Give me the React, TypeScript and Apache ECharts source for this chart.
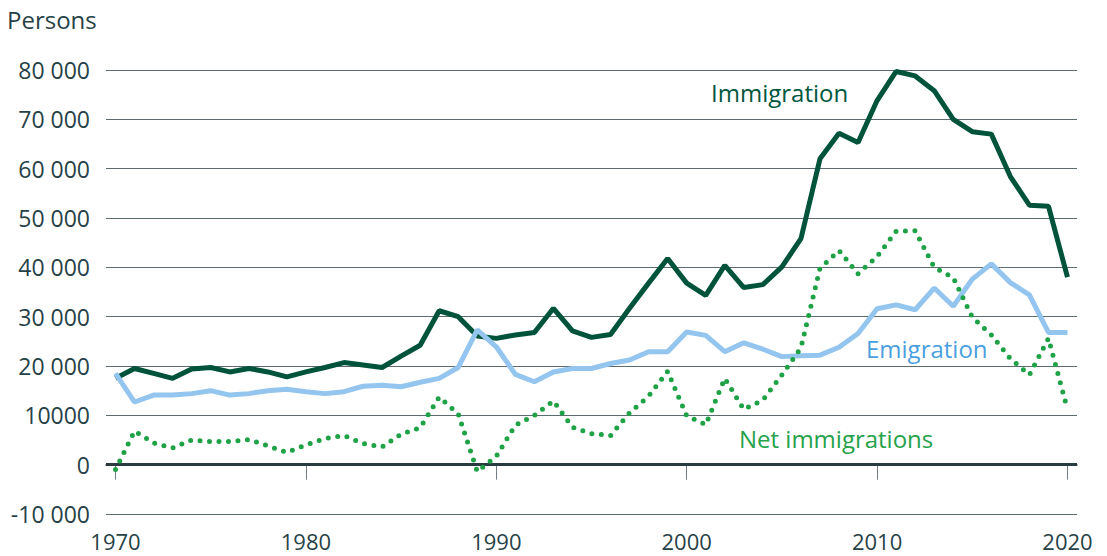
import React, { useEffect, useRef } from "react";
import * as echarts from "echarts";

const years: string[] = [];
for (let y = 1970; y <= 2020; y++) years.push(String(y));

const immigration = [
  17500, 19500, 18500, 17500, 19400, 19700, 18800, 19500, 18800, 17800,
  18800, 19700, 20700, 20200, 19700, 22000, 24200, 31200, 30000, 26100,
  25600, 26300, 26800, 31700, 27100, 25800, 26400, 31700, 36800, 41800,
  36800, 34300, 40400, 35900, 36500, 40100, 45800, 62000, 67200, 65300,
  73800, 79700, 78800, 75800, 70000, 67500, 67000, 58400, 52600, 52400, 38000,
];

const emigration = [
  18500, 12700, 14100, 14100, 14400, 15000, 14100, 14400, 15000, 15300,
  14800, 14400, 14800, 15900, 16100, 15800, 16700, 17500, 19700, 27300,
  23900, 18300, 16800, 18800, 19500, 19500, 20500, 21200, 22900, 22900,
  26900, 26200, 22900, 24700, 23400, 21900, 22100, 22200, 23800, 26600,
  31600, 32400, 31400, 35800, 32100, 37600, 40700, 36900, 34400, 26800, 26800,
];

const netImmigration = [
  -1000, 6800, 4400, 3400, 5000, 4700, 4700, 5100, 3800, 2500,
  4000, 5300, 5900, 4300, 3600, 6200, 7500, 13700, 10300, -1400,
  1700, 8000, 10000, 12900, 7600, 6300, 5900, 10500, 13900, 18900,
  9900, 8100, 17500, 11200, 13100, 18200, 23700, 39800, 43400, 38700,
  42200, 47300, 47400, 40000, 37900, 29900, 26300, 21500, 18200, 25600, 11200,
];

const FONT = "'Open Sans', 'Noto Sans', sans-serif";
const TEXT = "#274247";

function fmt(v: number): string {
  if (v === 10000) return "10000";
  const s = String(Math.abs(v));
  const withSpace = s.length > 3 ? s.slice(0, s.length - 3) + " " + s.slice(-3) : s;
  return (v < 0 ? "-" : "") + withSpace;
}

export default function App() {
  const ref = useRef<HTMLDivElement>(null);
  useEffect(() => {
    if (!ref.current) return;
    const chart = echarts.init(ref.current, undefined, { renderer: "svg" });
    chart.setOption({
      animation: false,
      grid: { left: 106, right: 30, top: 70, bottom: 42 },
      xAxis: {
        type: "category",
        data: years,
        boundaryGap: true,
        axisLine: { lineStyle: { color: "#95a0a2", width: 2 } },
        axisTick: {
          show: true,
          alignWithLabel: true,
          interval: 9,
          length: 15,
          lineStyle: { color: "#6f7c7f", width: 1 },
        },
        axisLabel: {
          interval: 9,
          margin: 16,
          fontSize: 22,
          lineHeight: 22,
          fontFamily: FONT,
          color: TEXT,
        },
        splitLine: { show: false },
      },
      yAxis: {
        type: "value",
        min: -10000,
        max: 80000,
        interval: 10000,
        axisLine: { show: false },
        axisTick: { show: false },
        axisLabel: {
          margin: 16,
          fontSize: 23,
          fontFamily: FONT,
          color: TEXT,
          formatter: (v: number) => fmt(v),
        },
        splitLine: { lineStyle: { color: "#5d6b6f", width: 1 } },
      },
      series: [
        {
          name: "Immigration",
          type: "line",
          data: immigration,
          symbol: "none",
          lineStyle: { color: "#00533b", width: 5 },
          z: 3,
          markLine: {
            silent: true,
            symbol: "none",
            label: { show: false },
            lineStyle: { color: "#2a3b40", width: 3, type: "solid" },
            data: [{ yAxis: 0 }],
          },
        },
        {
          name: "Emigration",
          type: "line",
          data: emigration,
          symbol: "none",
          lineStyle: { color: "#93c5ee", width: 5 },
          z: 4,
        },
        {
          name: "Net immigrations",
          type: "line",
          data: netImmigration,
          symbol: "none",
          lineStyle: { color: "#1fa246", width: 5, type: [0, 9.5], cap: "round" },
          z: 5,
        },
      ],
      graphic: [
        {
          type: "text",
          left: 7,
          top: 7,
          style: { text: "Persons", font: `24px ${FONT}`, fill: TEXT },
        },
        {
          type: "text",
          x: 711,
          y: 92,
          style: {
            text: "Immigration",
            font: `24px ${FONT}`,
            fill: "#00563e",
            textAlign: "left",
            textVerticalAlign: "middle",
          },
        },
        {
          type: "text",
          x: 866,
          y: 348,
          style: {
            text: "Emigration",
            font: `24px ${FONT}`,
            fill: "#4a9fe0",
            textAlign: "left",
            textVerticalAlign: "middle",
          },
        },
        {
          type: "text",
          x: 739,
          y: 438,
          style: {
            text: "Net immigrations",
            font: `24px ${FONT}`,
            fill: "#25a24a",
            textAlign: "left",
            textVerticalAlign: "middle",
          },
        },
      ],
    });
    return () => chart.dispose();
  }, []);
  return <div ref={ref} style={{ width: 1107, height: 556, position: "absolute", left: 0, top: 0 }} />;
}
